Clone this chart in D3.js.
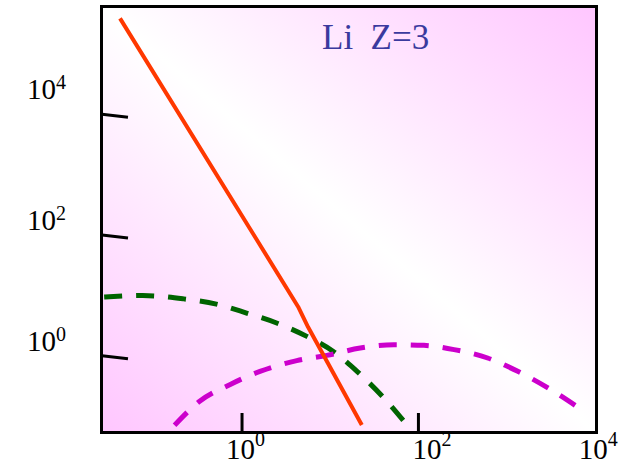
<!DOCTYPE html>
<html>
<head>
<meta charset="utf-8">
<script src="https://cdn.jsdelivr.net/npm/d3@7/dist/d3.min.js"></script>
<style>
  html, body { margin: 0; padding: 0; background: #fff; }
  svg { display: block; }
  text { font-family: "Liberation Serif", "Times New Roman", serif; }
</style>
</head>
<body>
<svg id="chart" width="619" height="465"></svg>
<script>
// Decade exponents shown on each axis
const xTickExps = [0, 2, 4];
const yTickExps = [0, 2, 4];

// Solid curve (orange-red)
const redX = [0.0419, 4.38, 5.68, 23.1];
const redY = [4.03e5, 6.73, 3.10, 0.0738];

// Dashed curve (green)
const greenX = [0.0277, 0.0757, 0.216, 0.519, 1.14, 2.5, 5.5, 11.0, 20.4, 41.0, 75.7];
const greenY = [9.7, 10.3, 9.1, 7.43, 5.28, 3.61, 2.17, 1.22, 0.571, 0.208, 0.073];

// Dashed curve (magenta)
const magentaX = [0.174, 0.335, 0.736, 1.62, 4.23, 9.3, 22.2, 53.3, 117, 257, 617, 1355, 2978, 7130];
const magentaY = [0.0731, 0.1825, 0.344, 0.571, 0.859, 1.05, 1.39, 1.58, 1.54, 1.31, 0.95, 0.571, 0.304, 0.133];

const titleText = "Li  Z=3";

const svg = d3.select("#chart");
const L = 102, R = 596, T = 7, B = 432;

const x = d3.scaleLog().domain([10 ** -1.582, 10 ** 4.019]).range([L, R]);
const y = d3.scaleLog().domain([10 ** -1.248, 10 ** 5.793]).range([B, T]);

// Diagonal pink-white-pink background
const defs = svg.append("defs");
const grad = defs.append("linearGradient")
  .attr("id", "bg").attr("x1", 0).attr("y1", 1).attr("x2", 1).attr("y2", 0);
grad.append("stop").attr("offset", 0).attr("stop-color", "#ffc6ff");
grad.append("stop").attr("offset", 0.5).attr("stop-color", "#ffffff");
grad.append("stop").attr("offset", 1).attr("stop-color", "#ffc6ff");

defs.append("clipPath").attr("id", "plotClip")
  .append("rect").attr("x", L).attr("y", T).attr("width", R - L).attr("height", B - T);

svg.append("rect")
  .attr("x", L).attr("y", T).attr("width", R - L).attr("height", B - T)
  .attr("fill", "url(#bg)");

// Inward ticks via d3 axes
const yAxis = svg.append("g")
  .attr("transform", `translate(${L},0)`)
  .call(d3.axisLeft(y).tickValues(yTickExps.map(e => 10 ** e)).tickSize(-26).tickFormat(""));
yAxis.select(".domain").remove();
yAxis.selectAll(".tick line")
  .attr("stroke", "#000").attr("stroke-width", 3)
  .attr("y1", -1.5).attr("y2", 1.5);

const xAxis = svg.append("g")
  .attr("transform", `translate(0,${B})`)
  .call(d3.axisBottom(x).tickValues(xTickExps.filter(e => e < 4).map(e => 10 ** e)).tickSize(-19).tickFormat(""));
xAxis.select(".domain").remove();
xAxis.selectAll(".tick line").attr("stroke", "#000").attr("stroke-width", 3);

// Curves
const smooth = d3.line()
  .x(d => x(d[0])).y(d => y(d[1]))
  .curve(d3.curveMonotoneX);
const straight = d3.line()
  .x(d => x(d[0])).y(d => y(d[1]));

const plot = svg.append("g").attr("clip-path", "url(#plotClip)");

plot.append("path")
  .datum(greenX.map((v, i) => [v, greenY[i]]))
  .attr("d", smooth)
  .attr("fill", "none").attr("stroke", "#006400").attr("stroke-width", 5)
  .attr("stroke-dasharray", "18,14");

plot.append("path")
  .datum(magentaX.map((v, i) => [v, magentaY[i]]))
  .attr("d", smooth)
  .attr("fill", "none").attr("stroke", "#cc00cc").attr("stroke-width", 5)
  .attr("stroke-dasharray", "18,14");

plot.append("path")
  .datum(redX.map((v, i) => [v, redY[i]]))
  .attr("d", straight)
  .attr("fill", "none").attr("stroke", "#ff3800").attr("stroke-width", 4)
  .attr("stroke-linejoin", "round");

// Frame
svg.append("rect")
  .attr("x", L - 0.5).attr("y", T - 0.5).attr("width", R - L + 1).attr("height", B - T + 1)
  .attr("fill", "none").attr("stroke", "#000").attr("stroke-width", 3);

// Tick labels written as 10 with a raised exponent
function powerLabel(sel, exp, px, py, supRise) {
  const t = sel.append("text").attr("x", px).attr("y", py)
    .attr("font-size", 29).attr("fill", "#000");
  t.append("tspan").text("10");
  t.append("tspan").attr("dy", -supRise).attr("font-size", 20).text(exp);
}

const yNudge = { 4: -10.5 };
yTickExps.forEach(e => {
  powerLabel(svg, e, 27, y(10 ** e) - 5.5 + (yNudge[e] || 0), 10);
});

const xNudge = { 2: 10 };
xTickExps.forEach(e => {
  powerLabel(svg, e, x(10 ** e) - 15.5 + (xNudge[e] || 0), 459, 13);
});

// Title
svg.append("text")
  .attr("x", 322).attr("y", 49)
  .attr("xml:space", "preserve").style("white-space", "pre")
  .attr("font-size", 35).attr("fill", "#3a3a9e")
  .text(titleText);
</script>
</body>
</html>
